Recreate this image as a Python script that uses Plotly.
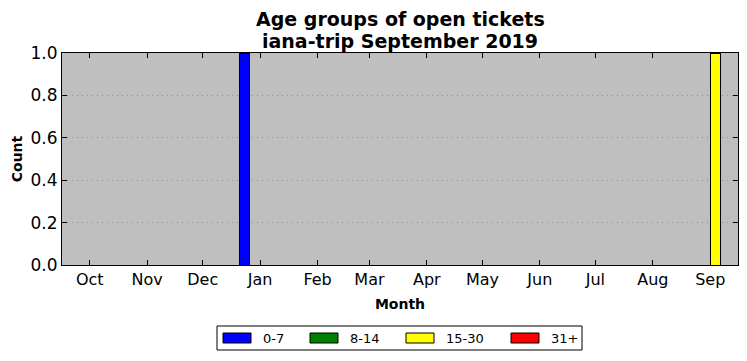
import plotly.graph_objects as go

# Data
bin_dates = ["2018-12-21", "2019-09-01"]
series_names = ["0-7", "8-14", "15-30", "31+"]
series_colors = ["#0000ff", "#008000", "#ffff00", "#ff0000"]
series_values = {
    "0-7": [1, 0],
    "8-14": [0, 0],
    "15-30": [0, 1],
    "31+": [0, 0],
}
month_ticks = ["2018-10-01", "2018-11-01", "2018-12-01", "2019-01-01", "2019-02-01",
               "2019-03-01", "2019-04-01", "2019-05-01", "2019-06-01", "2019-07-01",
               "2019-08-01", "2019-09-01"]
month_labels = ["Oct", "Nov", "Dec", "Jan", "Feb", "Mar", "Apr", "May", "Jun", "Jul", "Aug", "Sep"]
y_ticks = [0.0, 0.2, 0.4, 0.6, 0.8, 1.0]
y_labels = ["0.0", "0.2", "0.4", "0.6", "0.8", "1.0"]
title_lines = ["Age groups of open tickets", "iana-trip September 2019"]

DAY_MS = 86400000
bar_width = 5.5 * DAY_MS

# The page body adds an 8px offset; size the figure so the plot lands where the reference has it.
OFF = 8
W, H = 747 - OFF, 361 - OFF
L, R, T, B = 62 - OFF, 9, 53 - OFF, 96
PW, PH = W - L - R, H - T - B


def px(x):  # screenshot pixel -> paper x
    return (x - OFF - L) / PW


def py(y):  # screenshot pixel -> paper y
    return (H - B - (y - OFF)) / PH


fig = go.Figure()
for name, color in zip(series_names, series_colors):
    fig.add_trace(go.Bar(
        x=bin_dates, y=series_values[name], name=name,
        marker=dict(color=color, line=dict(color="black", width=1)),
        width=[bar_width] * len(bin_dates), offset=0, showlegend=False,
    ))

font = "DejaVu Sans"

# Manual legend (matplotlib-style wide patches)
legend_patch_x = [223, 310, 406, 511]
shapes = [dict(type="rect", xref="paper", yref="paper", x0=px(217), x1=px(582),
               y0=py(350), y1=py(326), line=dict(color="black", width=1), fillcolor="white",
               layer="above")]
annotations = []
for name, color, x0 in zip(series_names, series_colors, legend_patch_x):
    shapes.append(dict(type="rect", xref="paper", yref="paper", x0=px(x0), x1=px(x0 + 28),
                       y0=py(343), y1=py(333), line=dict(color="black", width=1),
                       fillcolor=color, layer="above"))
    annotations.append(dict(text=name, xref="paper", yref="paper", x=px(x0 + 38), y=py(338),
                            xanchor="left", yanchor="middle", showarrow=False,
                            font=dict(size=13, family=font, color="black")))

for line, yc in zip(title_lines, [18.5, 40.5]):
    annotations.append(dict(text="<b>" + line + "</b>",
                            xref="paper", yref="paper", x=0.5, y=py(yc), xanchor="center",
                            yanchor="middle", showarrow=False,
                            font=dict(size=19, family=font, color="black")))

fig.update_layout(
    barmode="stack",
    width=W, height=H,
    margin=dict(l=L, r=R, t=T, b=B),
    paper_bgcolor="white", plot_bgcolor="#bfbfbf",
    font=dict(family=font, color="black"),
    xaxis=dict(type="date", range=["2018-09-16", "2019-09-16"], automargin=False,
               tickvals=month_ticks, ticktext=month_labels,
               ticks="inside", ticklen=5, tickcolor="black",
               showline=True, linecolor="black", linewidth=1, mirror="ticks",
               showgrid=False, zeroline=False,
               tickfont=dict(size=16),
               title=dict(text="<b>Month</b>", font=dict(size=14), standoff=10)),
    yaxis=dict(range=[0, 1.0], tickvals=y_ticks, ticktext=y_labels, automargin=False,
               ticks="inside", ticklen=5, tickcolor="black",
               showline=True, linecolor="black", linewidth=1, mirror="ticks",
               showgrid=True, gridcolor="#8c8c8c", griddash="1px,4px", gridwidth=1,
               zeroline=False, tickfont=dict(size=17),
               title=dict(text="<b>Count</b>", font=dict(size=14), standoff=4)),
    shapes=shapes,
    annotations=annotations,
    showlegend=False,
)

fig.write_html("out.html")
